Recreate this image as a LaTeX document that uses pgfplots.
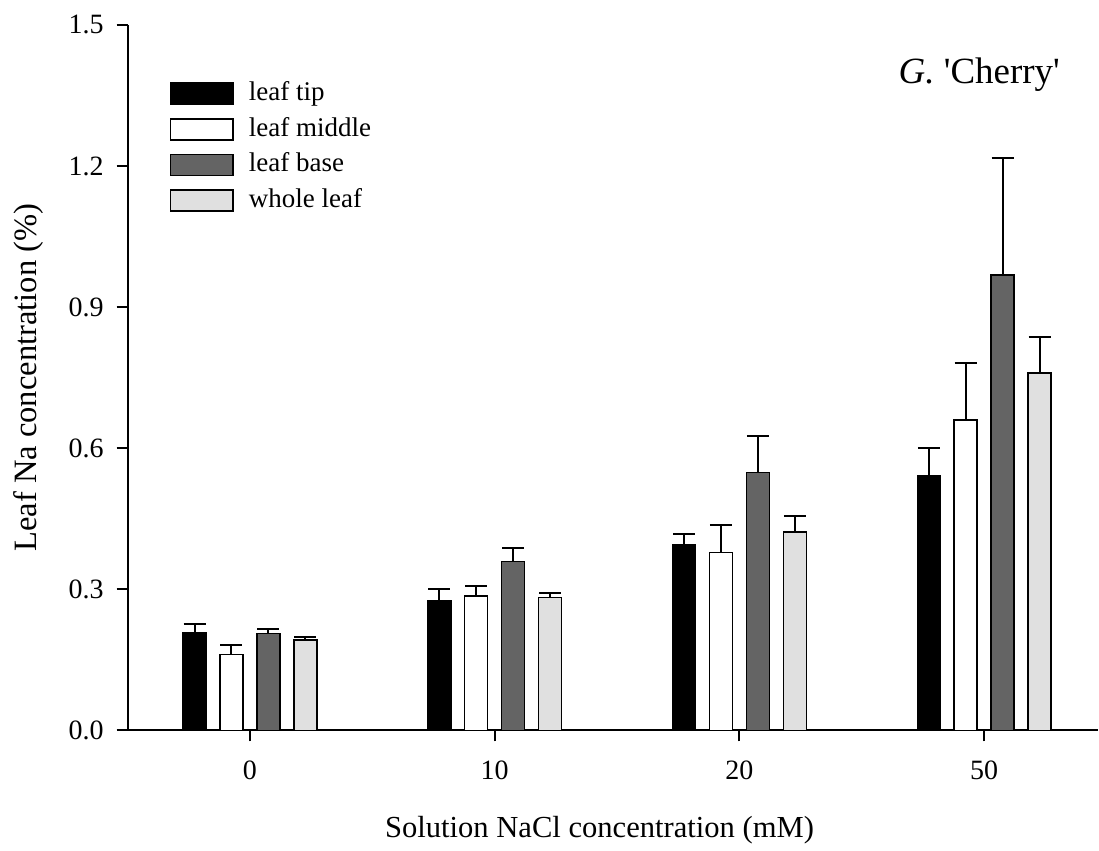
\documentclass[border=0pt]{standalone}
\usepackage{fontspec}
\setmainfont{Liberation Serif}
\usepackage{pgfplots}
\pgfplotsset{compat=1.18}
\definecolor{basegray}{HTML}{646464}
\definecolor{wholegray}{HTML}{E0E0E0}

\begin{document}
\begin{tikzpicture}
\path (0,0) rectangle (549.5pt,422.5pt);
\begin{axis}[
  at={(63.85pt,57pt)}, anchor=south west,
  width=485.65pt, height=353pt, scale only axis,
  xmin=-0.5, xmax=3.465, ymin=0, ymax=1.5,
  axis x line*=bottom, axis y line*=left,
  axis line style={line width=1pt},
  xtick={0,1,2,3}, xticklabels={0,10,20,50},
  ytick={0,0.3,0.6,0.9,1.2,1.5},
  yticklabel style={xshift=-3pt, /pgf/number format/.cd, fixed, fixed zerofill, precision=1},
  /pgf/number format/assume math mode=true,
  tick align=outside, major tick length=5.5pt,
  tick style={line width=1pt, black},
  ticklabel style={font=\fontsize{14}{16}\selectfont},
  xticklabel style={yshift=-6.5pt},
  xlabel={Solution NaCl concentration (mM)},
  ylabel={Leaf Na concentration (\%)},
  xlabel style={font=\fontsize{15.3}{18}\selectfont, at={(axis description cs:0.4863,-0.1516)}, anchor=base},
  ylabel style={font=\fontsize{16.3}{18}\selectfont, at={(axis description cs:-0.1016,0.5)}, anchor=center},
  ybar, bar width=0.0939,
  every axis plot/.append style={draw=black, line width=0.75pt},
  error bars/error bar style={line width=1pt, black},
  error bars/error mark options={rotate=90, line width=1pt, black, mark size=5.5pt},
  legend style={at={(axis description cs:0.0428,0.9216)}, anchor=north west,
    draw=none, fill=none, font=\fontsize{13.5}{16}\selectfont,
    cells={anchor=west}, row sep=4.85pt, column sep=7.5pt, inner sep=0pt,
    nodes={inner sep=0pt, text height=10pt, text depth=3pt}},
  legend image code/.code={\draw[#1, line width=0.75pt] (0pt,-5.25pt) rectangle (31.5pt,5.25pt);},
]
\addplot[fill=black, bar shift=-0.2261,
  error bars/.cd, y dir=plus, y explicit] coordinates {
  (0,0.207) +- (0,0.020)
  (1,0.276) +- (0,0.025)
  (2,0.395) +- (0,0.022)
  (3,0.542) +- (0,0.059)
};
\addlegendentry{leaf tip}
\addplot[fill=white, bar shift=-0.0755,
  error bars/.cd, y dir=plus, y explicit] coordinates {
  (0,0.161) +- (0,0.021)
  (1,0.286) +- (0,0.020)
  (2,0.378) +- (0,0.059)
  (3,0.660) +- (0,0.122)
};
\addlegendentry{leaf middle}
\addplot[fill=basegray, bar shift=0.0755,
  error bars/.cd, y dir=plus, y explicit] coordinates {
  (0,0.206) +- (0,0.009)
  (1,0.359) +- (0,0.028)
  (2,0.548) +- (0,0.078)
  (3,0.968) +- (0,0.250)
};
\addlegendentry{leaf base}
\addplot[fill=wholegray, bar shift=0.2261,
  error bars/.cd, y dir=plus, y explicit] coordinates {
  (0,0.192) +- (0,0.007)
  (1,0.282) +- (0,0.011)
  (2,0.422) +- (0,0.033)
  (3,0.760) +- (0,0.077)
};
\addlegendentry{whole leaf}
\node[anchor=base east, font=\fontsize{18.5}{22}\selectfont] at (axis cs:3.338,1.376)
  {\textit{G.} \textquotesingle Cherry\textquotesingle};
\end{axis}
\end{tikzpicture}
\end{document}
